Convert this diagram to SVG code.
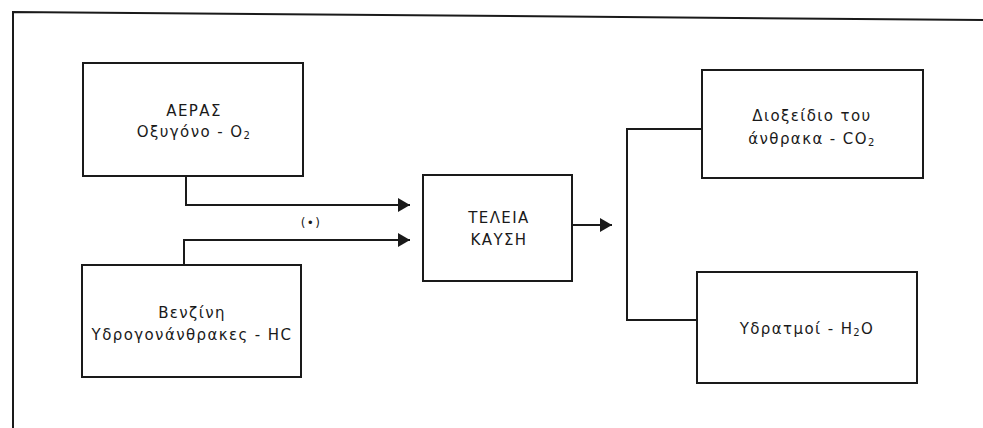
<svg xmlns="http://www.w3.org/2000/svg" width="983" height="428" viewBox="0 0 983 428">
<style>
.box{fill:#fff;stroke:#1a1a1a;stroke-width:2}
.ln{fill:none;stroke:#1a1a1a;stroke-width:2}
.t{font-family:"DejaVu Sans","Liberation Sans",sans-serif;font-size:15px;fill:#1a1a1a;text-anchor:middle;letter-spacing:1.4px}
.s{font-size:10px}
</style>
<defs>
<marker id="ah" viewBox="0 0 12 14" refX="12" refY="7" markerWidth="12" markerHeight="14" markerUnits="userSpaceOnUse" orient="auto">
<path d="M0,0 L12,7 L0,14 Z" fill="#1a1a1a"/>
</marker>
</defs>
<rect width="983" height="428" fill="#fff"/>
<g id="frame">
<path class="ln" d="M13,428 L13,12 L983,20" stroke-width="1.6"/>
</g>
<g id="connectors">
<path class="ln" d="M186,176 L186,205 L410,205" marker-end="url(#ah)"/>
<path class="ln" d="M184,265 L184,240 L410,240" marker-end="url(#ah)"/>
<path class="ln" d="M572,225 L612,225" marker-end="url(#ah)"/>
<path class="ln" d="M702,129 L627,129 L627,320 L697,320"/>
<text class="t" x="311" y="227" style="font-size:12px">(•)</text>
</g>
<g id="aeras">
<rect class="box" x="83" y="63" width="220" height="113"/>
<text class="t" x="194" y="116">ΑΕΡΑΣ</text>
<text class="t" x="194" y="137">Οξυγόνο - O<tspan class="s" dy="2">2</tspan></text>
</g>
<g id="venzini">
<rect class="box" x="82" y="265" width="219" height="112"/>
<text class="t" x="192" y="318">Βενζίνη</text>
<text class="t" x="192" y="340">Υδρογονάνθρακες - HC</text>
</g>
<g id="kausi">
<rect class="box" x="423" y="175" width="149" height="106"/>
<text class="t" x="499" y="223">ΤΕΛΕΙΑ</text>
<text class="t" x="499" y="245">ΚΑΥΣΗ</text>
</g>
<g id="co2">
<rect class="box" x="702" y="70" width="221" height="108"/>
<text class="t" x="812" y="121">Διοξείδιο του</text>
<text class="t" x="812" y="144">άνθρακα - CO<tspan class="s" dy="2">2</tspan></text>
</g>
<g id="h2o">
<rect class="box" x="697" y="272" width="220" height="111"/>
<text class="t" x="807" y="334">Υδρατμοί - H<tspan class="s" dy="2">2</tspan><tspan dy="-2">O</tspan></text>
</g>
</svg>
